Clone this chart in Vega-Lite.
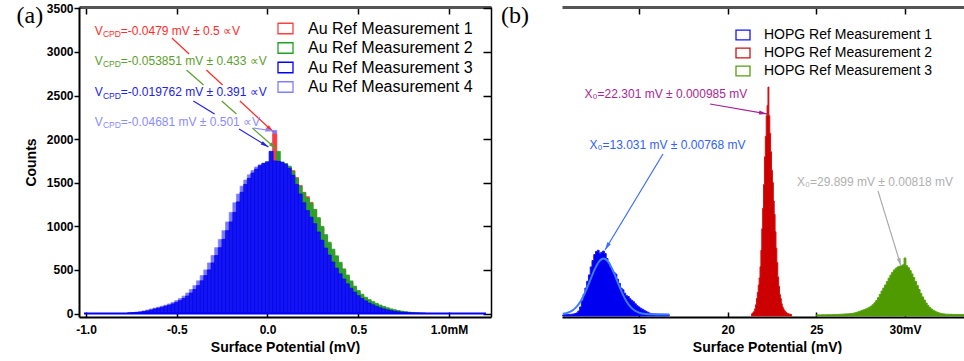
{
"$schema": "https://vega.github.io/schema/vega-lite/v6.json",
"background": "white",
"padding": {"left": 16, "top": 2, "right": 0, "bottom": 0},
"spacing": 8,
"config": {
 "view": {"stroke": null},
 "font": "Liberation Sans",
 "axis": {"labelFont": "Liberation Sans", "labelFontSize": 12, "labelFontWeight": "bold", "labelColor": "#000", "titleFont": "Liberation Sans", "titleFontSize": 14, "titleFontWeight": "bold", "titleColor": "#000", "domainColor": "#000", "tickColor": "#000", "grid": false, "labelFlush": false}
},
"resolve": {"scale": {"fill": "independent", "stroke": "independent", "color": "independent"}, "legend": {"fill": "independent", "stroke": "independent", "color": "independent"}},
"hconcat": [
{
 "width": 412, "height": 310,
 "resolve": {"axis": {"x": "independent", "y": "independent"}},
 "layer": [
  {
   "data": {"values": [
{"s":"4","x":-0.76,"c":9},{"s":"4","x":-0.74,"c":12},{"s":"4","x":-0.72,"c":16},{"s":"4","x":-0.7,"c":22},{"s":"4","x":-0.68,"c":30},{"s":"4","x":-0.66,"c":40},{"s":"4","x":-0.64,"c":52},{"s":"4","x":-0.62,"c":62},{"s":"4","x":-0.6,"c":72},{"s":"4","x":-0.58,"c":84},
{"s":"4","x":-0.56,"c":96},{"s":"4","x":-0.54,"c":110},{"s":"4","x":-0.52,"c":128},{"s":"4","x":-0.5,"c":148},{"s":"4","x":-0.48,"c":172},{"s":"4","x":-0.46,"c":200},{"s":"4","x":-0.44,"c":235},{"s":"4","x":-0.42,"c":275},{"s":"4","x":-0.4,"c":320},{"s":"4","x":-0.38,"c":375},
{"s":"4","x":-0.36,"c":435},{"s":"4","x":-0.34,"c":500},{"s":"4","x":-0.32,"c":580},{"s":"4","x":-0.3,"c":665},{"s":"4","x":-0.28,"c":755},{"s":"4","x":-0.26,"c":850},{"s":"4","x":-0.24,"c":950},{"s":"4","x":-0.22,"c":1050},{"s":"4","x":-0.2,"c":1160},{"s":"4","x":-0.18,"c":1270},
{"s":"4","x":-0.16,"c":1370},{"s":"4","x":-0.14,"c":1460},{"s":"4","x":-0.12,"c":1530},{"s":"4","x":-0.1,"c":1590},{"s":"4","x":-0.08,"c":1640},{"s":"4","x":-0.06,"c":1680},{"s":"4","x":-0.04,"c":1705},{"s":"4","x":-0.02,"c":1725},{"s":"4","x":0,"c":1735},{"s":"4","x":0.02,"c":1740},
{"s":"4","x":0.04,"c":2100},{"s":"4","x":0.06,"c":1720},{"s":"4","x":0.08,"c":1690},{"s":"4","x":0.1,"c":1650},{"s":"4","x":0.12,"c":1590},{"s":"4","x":0.14,"c":1510},{"s":"4","x":0.16,"c":1410},{"s":"4","x":0.18,"c":1300},{"s":"4","x":0.2,"c":1200},{"s":"4","x":0.22,"c":1110},
{"s":"4","x":0.24,"c":1030},{"s":"4","x":0.26,"c":950},{"s":"4","x":0.28,"c":860},{"s":"4","x":0.3,"c":770},{"s":"4","x":0.32,"c":685},{"s":"4","x":0.34,"c":605},{"s":"4","x":0.36,"c":530},{"s":"4","x":0.38,"c":465},{"s":"4","x":0.4,"c":405},{"s":"4","x":0.42,"c":350},
{"s":"4","x":0.44,"c":300},{"s":"4","x":0.46,"c":255},{"s":"4","x":0.48,"c":215},{"s":"4","x":0.5,"c":180},{"s":"4","x":0.52,"c":150},{"s":"4","x":0.54,"c":125},{"s":"4","x":0.56,"c":104},{"s":"4","x":0.58,"c":86},{"s":"4","x":0.6,"c":70},{"s":"4","x":0.62,"c":56},
{"s":"4","x":0.64,"c":45},{"s":"4","x":0.66,"c":35},{"s":"4","x":0.68,"c":27},{"s":"4","x":0.7,"c":21},{"s":"4","x":0.72,"c":16},{"s":"4","x":0.74,"c":12},{"s":"4","x":0.76,"c":9},{"s":"4","x":0.78,"c":6},{"s":"4","x":0.8,"c":4},{"s":"4","x":0.82,"c":3},
{"s":"4","x":0.84,"c":2},{"s":"4","x":0.86,"c":1},
{"s":"1","x":-0.76,"c":4},{"s":"1","x":-0.74,"c":6},{"s":"1","x":-0.72,"c":9},{"s":"1","x":-0.7,"c":12},{"s":"1","x":-0.68,"c":16},{"s":"1","x":-0.66,"c":22},{"s":"1","x":-0.64,"c":30},{"s":"1","x":-0.62,"c":40},{"s":"1","x":-0.6,"c":50},{"s":"1","x":-0.58,"c":60},
{"s":"1","x":-0.56,"c":70},{"s":"1","x":-0.54,"c":82},{"s":"1","x":-0.52,"c":95},{"s":"1","x":-0.5,"c":110},{"s":"1","x":-0.48,"c":128},{"s":"1","x":-0.46,"c":150},{"s":"1","x":-0.44,"c":175},{"s":"1","x":-0.42,"c":205},{"s":"1","x":-0.4,"c":240},{"s":"1","x":-0.38,"c":280},
{"s":"1","x":-0.36,"c":325},{"s":"1","x":-0.34,"c":380},{"s":"1","x":-0.32,"c":440},{"s":"1","x":-0.3,"c":510},{"s":"1","x":-0.28,"c":590},{"s":"1","x":-0.26,"c":680},{"s":"1","x":-0.24,"c":770},{"s":"1","x":-0.22,"c":865},{"s":"1","x":-0.2,"c":965},{"s":"1","x":-0.18,"c":1070},
{"s":"1","x":-0.16,"c":1180},{"s":"1","x":-0.14,"c":1290},{"s":"1","x":-0.12,"c":1390},{"s":"1","x":-0.1,"c":1470},{"s":"1","x":-0.08,"c":1540},{"s":"1","x":-0.06,"c":1600},{"s":"1","x":-0.04,"c":1645},{"s":"1","x":-0.02,"c":1680},{"s":"1","x":0,"c":1705},{"s":"1","x":0.02,"c":1720},
{"s":"1","x":0.04,"c":2060},{"s":"1","x":0.06,"c":1735},{"s":"1","x":0.08,"c":1730},{"s":"1","x":0.1,"c":1715},{"s":"1","x":0.12,"c":1680},{"s":"1","x":0.14,"c":1640},{"s":"1","x":0.16,"c":1560},{"s":"1","x":0.18,"c":1470},{"s":"1","x":0.2,"c":1390},{"s":"1","x":0.22,"c":1340},
{"s":"1","x":0.24,"c":1275},{"s":"1","x":0.26,"c":1190},{"s":"1","x":0.28,"c":1090},{"s":"1","x":0.3,"c":985},{"s":"1","x":0.32,"c":890},{"s":"1","x":0.34,"c":800},{"s":"1","x":0.36,"c":720},{"s":"1","x":0.38,"c":650},{"s":"1","x":0.4,"c":575},{"s":"1","x":0.42,"c":500},
{"s":"1","x":0.44,"c":430},{"s":"1","x":0.46,"c":360},{"s":"1","x":0.48,"c":300},{"s":"1","x":0.5,"c":250},{"s":"1","x":0.52,"c":205},{"s":"1","x":0.54,"c":175},{"s":"1","x":0.56,"c":150},{"s":"1","x":0.58,"c":128},{"s":"1","x":0.6,"c":108},{"s":"1","x":0.62,"c":90},
{"s":"1","x":0.64,"c":75},{"s":"1","x":0.66,"c":60},{"s":"1","x":0.68,"c":48},{"s":"1","x":0.7,"c":38},{"s":"1","x":0.72,"c":30},{"s":"1","x":0.74,"c":23},{"s":"1","x":0.76,"c":18},{"s":"1","x":0.78,"c":12},{"s":"1","x":0.8,"c":8},{"s":"1","x":0.82,"c":5},
{"s":"1","x":0.84,"c":3},{"s":"1","x":0.86,"c":2},
{"s":"2","x":-0.76,"c":3},{"s":"2","x":-0.74,"c":5},{"s":"2","x":-0.72,"c":8},{"s":"2","x":-0.7,"c":11},{"s":"2","x":-0.68,"c":15},{"s":"2","x":-0.66,"c":20},{"s":"2","x":-0.64,"c":28},{"s":"2","x":-0.62,"c":37},{"s":"2","x":-0.6,"c":46},{"s":"2","x":-0.58,"c":56},
{"s":"2","x":-0.56,"c":66},{"s":"2","x":-0.54,"c":78},{"s":"2","x":-0.52,"c":90},{"s":"2","x":-0.5,"c":105},{"s":"2","x":-0.48,"c":122},{"s":"2","x":-0.46,"c":142},{"s":"2","x":-0.44,"c":166},{"s":"2","x":-0.42,"c":195},{"s":"2","x":-0.4,"c":230},{"s":"2","x":-0.38,"c":270},
{"s":"2","x":-0.36,"c":315},{"s":"2","x":-0.34,"c":368},{"s":"2","x":-0.32,"c":428},{"s":"2","x":-0.3,"c":498},{"s":"2","x":-0.28,"c":578},{"s":"2","x":-0.26,"c":668},{"s":"2","x":-0.24,"c":758},{"s":"2","x":-0.22,"c":852},{"s":"2","x":-0.2,"c":952},{"s":"2","x":-0.18,"c":1058},
{"s":"2","x":-0.16,"c":1168},{"s":"2","x":-0.14,"c":1278},{"s":"2","x":-0.12,"c":1380},{"s":"2","x":-0.1,"c":1462},{"s":"2","x":-0.08,"c":1535},{"s":"2","x":-0.06,"c":1595},{"s":"2","x":-0.04,"c":1640},{"s":"2","x":-0.02,"c":1678},{"s":"2","x":0,"c":1702},{"s":"2","x":0.02,"c":1722},
{"s":"2","x":0.04,"c":1735},{"s":"2","x":0.06,"c":1860},{"s":"2","x":0.08,"c":1735},{"s":"2","x":0.1,"c":1720},{"s":"2","x":0.12,"c":1690},{"s":"2","x":0.14,"c":1630},{"s":"2","x":0.16,"c":1550},{"s":"2","x":0.18,"c":1460},{"s":"2","x":0.2,"c":1385},{"s":"2","x":0.22,"c":1325},
{"s":"2","x":0.24,"c":1265},{"s":"2","x":0.26,"c":1195},{"s":"2","x":0.28,"c":1100},{"s":"2","x":0.3,"c":1000},{"s":"2","x":0.32,"c":905},{"s":"2","x":0.34,"c":818},{"s":"2","x":0.36,"c":738},{"s":"2","x":0.38,"c":662},{"s":"2","x":0.4,"c":588},{"s":"2","x":0.42,"c":512},
{"s":"2","x":0.44,"c":442},{"s":"2","x":0.46,"c":374},{"s":"2","x":0.48,"c":314},{"s":"2","x":0.5,"c":264},{"s":"2","x":0.52,"c":222},{"s":"2","x":0.54,"c":187},{"s":"2","x":0.56,"c":160},{"s":"2","x":0.58,"c":137},{"s":"2","x":0.6,"c":116},{"s":"2","x":0.62,"c":97},
{"s":"2","x":0.64,"c":81},{"s":"2","x":0.66,"c":66},{"s":"2","x":0.68,"c":53},{"s":"2","x":0.7,"c":43},{"s":"2","x":0.72,"c":34},{"s":"2","x":0.74,"c":27},{"s":"2","x":0.76,"c":21},{"s":"2","x":0.78,"c":16},{"s":"2","x":0.8,"c":12},{"s":"2","x":0.82,"c":9},
{"s":"2","x":0.84,"c":6},{"s":"2","x":0.86,"c":4},
{"s":"3","x":-0.76,"c":6},{"s":"3","x":-0.74,"c":9},{"s":"3","x":-0.72,"c":12},{"s":"3","x":-0.7,"c":16},{"s":"3","x":-0.68,"c":22},{"s":"3","x":-0.66,"c":30},{"s":"3","x":-0.64,"c":40},{"s":"3","x":-0.62,"c":52},{"s":"3","x":-0.6,"c":62},{"s":"3","x":-0.58,"c":72},
{"s":"3","x":-0.56,"c":84},{"s":"3","x":-0.54,"c":96},{"s":"3","x":-0.52,"c":110},{"s":"3","x":-0.5,"c":128},{"s":"3","x":-0.48,"c":148},{"s":"3","x":-0.46,"c":172},{"s":"3","x":-0.44,"c":200},{"s":"3","x":-0.42,"c":235},{"s":"3","x":-0.4,"c":275},{"s":"3","x":-0.38,"c":320},
{"s":"3","x":-0.36,"c":375},{"s":"3","x":-0.34,"c":435},{"s":"3","x":-0.32,"c":500},{"s":"3","x":-0.3,"c":580},{"s":"3","x":-0.28,"c":665},{"s":"3","x":-0.26,"c":755},{"s":"3","x":-0.24,"c":850},{"s":"3","x":-0.22,"c":950},{"s":"3","x":-0.2,"c":1050},{"s":"3","x":-0.18,"c":1160},
{"s":"3","x":-0.16,"c":1280},{"s":"3","x":-0.14,"c":1390},{"s":"3","x":-0.12,"c":1480},{"s":"3","x":-0.1,"c":1550},{"s":"3","x":-0.08,"c":1610},{"s":"3","x":-0.06,"c":1655},{"s":"3","x":-0.04,"c":1695},{"s":"3","x":-0.02,"c":1720},{"s":"3","x":0,"c":1740},{"s":"3","x":0.02,"c":1860},
{"s":"3","x":0.04,"c":1750},{"s":"3","x":0.06,"c":1745},{"s":"3","x":0.08,"c":1735},{"s":"3","x":0.1,"c":1710},{"s":"3","x":0.12,"c":1665},{"s":"3","x":0.14,"c":1585},{"s":"3","x":0.16,"c":1480},{"s":"3","x":0.18,"c":1370},{"s":"3","x":0.2,"c":1270},{"s":"3","x":0.22,"c":1180},
{"s":"3","x":0.24,"c":1105},{"s":"3","x":0.26,"c":1030},{"s":"3","x":0.28,"c":935},{"s":"3","x":0.3,"c":840},{"s":"3","x":0.32,"c":750},{"s":"3","x":0.34,"c":670},{"s":"3","x":0.36,"c":590},{"s":"3","x":0.38,"c":520},{"s":"3","x":0.4,"c":455},{"s":"3","x":0.42,"c":395},
{"s":"3","x":0.44,"c":340},{"s":"3","x":0.46,"c":290},{"s":"3","x":0.48,"c":245},{"s":"3","x":0.5,"c":205},{"s":"3","x":0.52,"c":172},{"s":"3","x":0.54,"c":145},{"s":"3","x":0.56,"c":120},{"s":"3","x":0.58,"c":100},{"s":"3","x":0.6,"c":82},{"s":"3","x":0.62,"c":66},
{"s":"3","x":0.64,"c":53},{"s":"3","x":0.66,"c":42},{"s":"3","x":0.68,"c":33},{"s":"3","x":0.7,"c":26},{"s":"3","x":0.72,"c":20},{"s":"3","x":0.74,"c":15},{"s":"3","x":0.76,"c":11},{"s":"3","x":0.78,"c":8},{"s":"3","x":0.8,"c":6},{"s":"3","x":0.82,"c":4},
{"s":"3","x":0.84,"c":3},{"s":"3","x":0.86,"c":2}
   ]},
   "mark": {"type": "bar", "width": 4, "strokeWidth": 0.7},
   "encoding": {
    "x": {"field": "x", "type": "quantitative", "scale": {"domain": [-1.011, 1.204], "nice": false, "zero": false},
          "axis": {"orient": "bottom", "values": [-1, -0.5, 0, 0.5, 1], "labelExpr": "datum.value == 1 ? '1.0mM' : (datum.value < 0 ? '-' + format(-datum.value, '.1f') : format(datum.value, '.1f'))", "title": "Surface Potential (mV)", "tickSize": -5, "tickWidth": 1.5, "labelPadding": 12, "titlePadding": 5, "domainWidth": 2}},
    "y": {"field": "c", "type": "quantitative", "stack": null, "scale": {"domain": [-40, 3515], "nice": false, "zero": false},
          "axis": {"orient": "left", "values": [0, 500, 1000, 1500, 2000, 2500, 3000, 3500], "format": "d", "title": "Counts", "tickSize": 5, "tickWidth": 1.5, "labelPadding": 1, "titlePadding": 8, "domainWidth": 2}},
    "fill": {"field": "s", "type": "nominal", "scale": {"range": ["#ff3c3c", "#2ca02c", "#1515ee", "#7a7aff"]}, "legend": null},
    "stroke": {"field": "s", "type": "nominal", "scale": {"range": ["#ff4040", "#22a022", "#0000ff", "#8080ff"]}, "legend": null}
   }
  },
  {
   "data": {"values": [{"s": "1"}, {"s": "2"}, {"s": "3"}, {"s": "4"}]},
   "mark": {"type": "point", "filled": false, "clip": true, "shape": "M-1,-0.7H1V0.7H-1Z", "size": 225, "strokeWidth": 1.3},
   "encoding": {
    "x": {"datum": -5, "type": "quantitative", "axis": null},
    "y": {"datum": 0, "type": "quantitative", "axis": null},
    "color": {"field": "s", "type": "nominal", "scale": {"domain": ["1", "2", "3", "4"], "range": ["#ff4040", "#22a022", "#0000ff", "#8080ff"]},
       "legend": {"orient": "none", "legendX": 198, "legendY": 13, "title": null, "labelExpr": "'Au Ref Measurement ' + datum.label", "labelLimit": 0, "symbolType": "M-1,-0.7H1V0.7H-1Z", "symbolSize": 225, "symbolStrokeWidth": 1.3, "symbolOpacity": 1, "labelFont": "Liberation Sans", "labelFontSize": 16, "labelColor": "#000", "labelOffset": 14, "rowPadding": 2.5, "padding": 0}}
   }
  },
  {
   "data": {"values": [{}]},
   "mark": {"type": "rule", "color": "#0000ff", "strokeWidth": 2},
   "encoding": {"x": {"datum": -1.011, "type": "quantitative", "axis": null}, "x2": {"datum": 1.204}, "y": {"datum": 0, "type": "quantitative", "axis": null}}
  },
  {
   "data": {"values": [{}]},
   "mark": {"type": "rule", "opacity": 0},
   "encoding": {
    "x": {"datum": -1.011, "type": "quantitative", "axis": {"orient": "top", "values": [-1, -0.5, 0, 0.5, 1], "labels": false, "title": null, "tickSize": -7, "tickWidth": 1.5, "domainColor": "#555555", "domainWidth": 3}},
    "x2": {"datum": 1.204},
    "y": {"datum": 3515, "type": "quantitative", "axis": {"orient": "right", "values": [0, 500, 1000, 1500, 2000, 2500, 3000, 3500], "labels": false, "title": null, "tickSize": -8, "tickWidth": 1.5, "domainWidth": 1.5}}
   }
  },
  {
   "layer": [
    {"data": {"values": [{"x": -0.5269, "y": 3159.5, "x2": -0.4317, "y2": 2976}, {"x": -0.3366, "y": 2792.5, "x2": -0.2473, "y2": 2620.5}, {"x": -0.1522, "y": 2437, "x2": 0.0323, "y2": 2081.5}]},
     "mark": {"type": "rule", "strokeWidth": 1.2, "color": "#ff2a2a"},
     "encoding": {"x": {"field": "x", "type": "quantitative", "axis": null}, "y": {"field": "y", "type": "quantitative", "axis": null}, "x2": {"field": "x2"}, "y2": {"field": "y2"}}},
    {"data": {"values": [{"x": 0.0165, "y": 2112}]},
     "mark": {"type": "point", "shape": "M0,-1L0.5,1L-0.5,1Z", "filled": true, "opacity": 1, "size": 64, "angle": 132, "color": "#ff2a2a"},
     "encoding": {"x": {"field": "x", "type": "quantitative", "axis": null}, "y": {"field": "y", "type": "quantitative", "axis": null}}},
    {"data": {"values": [{"x": -0.9516, "y": 3194, "t": "=-0.0479 mV ± 0.5 ∝V"}]},
     "layer": [
      {"mark": {"type": "text", "align": "left", "baseline": "alphabetic", "fontSize": 12, "color": "#ff2a2a"}, "encoding": {"x": {"field": "x", "type": "quantitative", "axis": null}, "y": {"field": "y", "type": "quantitative", "axis": null}, "text": {"value": "V"}}},
      {"mark": {"type": "text", "align": "left", "baseline": "alphabetic", "fontSize": 8.5, "dx": 8.2, "dy": 2.5, "color": "#ff2a2a"}, "encoding": {"x": {"field": "x", "type": "quantitative", "axis": null}, "y": {"field": "y", "type": "quantitative", "axis": null}, "text": {"value": "CPD"}}},
      {"mark": {"type": "text", "align": "left", "baseline": "alphabetic", "fontSize": 12, "dx": 26, "color": "#ff2a2a"}, "encoding": {"x": {"field": "x", "type": "quantitative", "axis": null}, "y": {"field": "y", "type": "quantitative", "axis": null}, "text": {"field": "t"}}}
     ]}
   ]
  },
  {
   "layer": [
    {"data": {"values": [{"x": -0.4462, "y": 2792.5, "x2": -0.3522, "y2": 2620.5}, {"x": -0.2522, "y": 2437, "x2": -0.171, "y2": 2288}, {"x": -0.0833, "y": 2127.4, "x2": 0.0484, "y2": 1887}]},
     "mark": {"type": "rule", "strokeWidth": 1.2, "color": "#5c9e2c"},
     "encoding": {"x": {"field": "x", "type": "quantitative", "axis": null}, "y": {"field": "y", "type": "quantitative", "axis": null}, "x2": {"field": "x2"}, "y2": {"field": "y2"}}},
    {"data": {"values": [{"x": 0.0321, "y": 1917}]},
     "mark": {"type": "point", "shape": "M0,-1L0.5,1L-0.5,1Z", "filled": true, "opacity": 1, "size": 64, "angle": 131, "color": "#5c9e2c"},
     "encoding": {"x": {"field": "x", "type": "quantitative", "axis": null}, "y": {"field": "y", "type": "quantitative", "axis": null}}},
    {"data": {"values": [{"x": -0.9516, "y": 2851, "t": "=-0.053851 mV ± 0.433 ∝V"}]},
     "layer": [
      {"mark": {"type": "text", "align": "left", "baseline": "alphabetic", "fontSize": 12, "color": "#5c9e2c"}, "encoding": {"x": {"field": "x", "type": "quantitative", "axis": null}, "y": {"field": "y", "type": "quantitative", "axis": null}, "text": {"value": "V"}}},
      {"mark": {"type": "text", "align": "left", "baseline": "alphabetic", "fontSize": 8.5, "dx": 8.2, "dy": 2.5, "color": "#5c9e2c"}, "encoding": {"x": {"field": "x", "type": "quantitative", "axis": null}, "y": {"field": "y", "type": "quantitative", "axis": null}, "text": {"value": "CPD"}}},
      {"mark": {"type": "text", "align": "left", "baseline": "alphabetic", "fontSize": 12, "dx": 26, "color": "#5c9e2c"}, "encoding": {"x": {"field": "x", "type": "quantitative", "axis": null}, "y": {"field": "y", "type": "quantitative", "axis": null}, "text": {"field": "t"}}}
     ]}
   ]
  },
  {
   "layer": [
    {"data": {"values": [{"x": -0.4086, "y": 2437, "x2": -0.2914, "y2": 2288}, {"x": -0.1565, "y": 2116, "x2": 0.0054, "y2": 1909.5}]},
     "mark": {"type": "rule", "strokeWidth": 1.2, "color": "#2222ee"},
     "encoding": {"x": {"field": "x", "type": "quantitative", "axis": null}, "y": {"field": "y", "type": "quantitative", "axis": null}, "x2": {"field": "x2"}, "y2": {"field": "y2"}}},
    {"data": {"values": [{"x": -0.013, "y": 1933}]},
     "mark": {"type": "point", "shape": "M0,-1L0.5,1L-0.5,1Z", "filled": true, "opacity": 1, "size": 64, "angle": 121, "color": "#2222ee"},
     "encoding": {"x": {"field": "x", "type": "quantitative", "axis": null}, "y": {"field": "y", "type": "quantitative", "axis": null}}},
    {"data": {"values": [{"x": -0.9516, "y": 2494, "t": "=-0.019762 mV ± 0.391 ∝V"}]},
     "layer": [
      {"mark": {"type": "text", "align": "left", "baseline": "alphabetic", "fontSize": 12, "color": "#2222ee"}, "encoding": {"x": {"field": "x", "type": "quantitative", "axis": null}, "y": {"field": "y", "type": "quantitative", "axis": null}, "text": {"value": "V"}}},
      {"mark": {"type": "text", "align": "left", "baseline": "alphabetic", "fontSize": 8.5, "dx": 8.2, "dy": 2.5, "color": "#2222ee"}, "encoding": {"x": {"field": "x", "type": "quantitative", "axis": null}, "y": {"field": "y", "type": "quantitative", "axis": null}, "text": {"value": "CPD"}}},
      {"mark": {"type": "text", "align": "left", "baseline": "alphabetic", "fontSize": 12, "dx": 26, "color": "#2222ee"}, "encoding": {"x": {"field": "x", "type": "quantitative", "axis": null}, "y": {"field": "y", "type": "quantitative", "axis": null}, "text": {"field": "t"}}}
     ]}
   ]
  },
  {
   "layer": [
    {"data": {"values": [{"x": -0.0753, "y": 2127.4, "x2": 0.0323, "y2": 2093}]},
     "mark": {"type": "rule", "strokeWidth": 1.2, "color": "#8c8cff"},
     "encoding": {"x": {"field": "x", "type": "quantitative", "axis": null}, "y": {"field": "y", "type": "quantitative", "axis": null}, "x2": {"field": "x2"}, "y2": {"field": "y2"}}},
    {"data": {"values": [{"x": 0.011, "y": 2100}]},
     "mark": {"type": "point", "shape": "M0,-1L0.5,1L-0.5,1Z", "filled": true, "opacity": 1, "size": 64, "angle": 98, "color": "#8c8cff"},
     "encoding": {"x": {"field": "x", "type": "quantitative", "axis": null}, "y": {"field": "y", "type": "quantitative", "axis": null}}},
    {"data": {"values": [{"x": -0.9516, "y": 2155, "t": "=-0.04681 mV ± 0.501 ∝V"}]},
     "layer": [
      {"mark": {"type": "text", "align": "left", "baseline": "alphabetic", "fontSize": 12, "color": "#8c8cff"}, "encoding": {"x": {"field": "x", "type": "quantitative", "axis": null}, "y": {"field": "y", "type": "quantitative", "axis": null}, "text": {"value": "V"}}},
      {"mark": {"type": "text", "align": "left", "baseline": "alphabetic", "fontSize": 8.5, "dx": 8.2, "dy": 2.5, "color": "#8c8cff"}, "encoding": {"x": {"field": "x", "type": "quantitative", "axis": null}, "y": {"field": "y", "type": "quantitative", "axis": null}, "text": {"value": "CPD"}}},
      {"mark": {"type": "text", "align": "left", "baseline": "alphabetic", "fontSize": 12, "dx": 26, "color": "#8c8cff"}, "encoding": {"x": {"field": "x", "type": "quantitative", "axis": null}, "y": {"field": "y", "type": "quantitative", "axis": null}, "text": {"field": "t"}}}
     ]}
   ]
  },
  {
   "data": {"values": [{}]},
   "mark": {"type": "text", "font": "Liberation Serif", "fontSize": 24, "align": "center", "baseline": "middle", "color": "#000"},
   "encoding": {"x": {"datum": -1.309, "type": "quantitative", "axis": null}, "y": {"datum": 3412, "type": "quantitative", "axis": null}, "text": {"value": "(a)"}}
  }
 ]
},
{
 "width": 410, "height": 310,
 "resolve": {"axis": {"x": "independent"}},
 "layer": [
  {
   "data": {"values": [
{"h":"1","x":10.7,"c":10},{"h":"1","x":10.8,"c":12},{"h":"1","x":10.9,"c":13},{"h":"1","x":11,"c":14},{"h":"1","x":11.1,"c":15},{"h":"1","x":11.2,"c":17},{"h":"1","x":11.3,"c":19},{"h":"1","x":11.4,"c":23},{"h":"1","x":11.5,"c":30},{"h":"1","x":11.6,"c":48},
{"h":"1","x":11.7,"c":88},{"h":"1","x":11.8,"c":148},{"h":"1","x":11.9,"c":210},{"h":"1","x":12,"c":272},{"h":"1","x":12.1,"c":338},{"h":"1","x":12.2,"c":400},{"h":"1","x":12.3,"c":478},{"h":"1","x":12.4,"c":540},{"h":"1","x":12.5,"c":598},{"h":"1","x":12.6,"c":628},
{"h":"1","x":12.7,"c":640},{"h":"1","x":12.8,"c":612},{"h":"1","x":12.9,"c":620},{"h":"1","x":13,"c":632},{"h":"1","x":13.1,"c":608},{"h":"1","x":13.2,"c":560},{"h":"1","x":13.3,"c":518},{"h":"1","x":13.4,"c":478},{"h":"1","x":13.5,"c":440},{"h":"1","x":13.6,"c":425},
{"h":"1","x":13.7,"c":408},{"h":"1","x":13.8,"c":358},{"h":"1","x":13.9,"c":318},{"h":"1","x":14,"c":272},{"h":"1","x":14.1,"c":255},{"h":"1","x":14.2,"c":222},{"h":"1","x":14.3,"c":198},{"h":"1","x":14.4,"c":190},{"h":"1","x":14.5,"c":168},{"h":"1","x":14.6,"c":152},
{"h":"1","x":14.7,"c":138},{"h":"1","x":14.8,"c":118},{"h":"1","x":14.9,"c":100},{"h":"1","x":15,"c":88},{"h":"1","x":15.1,"c":75},{"h":"1","x":15.2,"c":66},{"h":"1","x":15.3,"c":55},{"h":"1","x":15.4,"c":45},{"h":"1","x":15.5,"c":37},{"h":"1","x":15.6,"c":28},
{"h":"1","x":15.7,"c":22},{"h":"1","x":15.8,"c":20},{"h":"1","x":15.9,"c":20},{"h":"1","x":16,"c":19},{"h":"1","x":16.1,"c":18},{"h":"1","x":16.2,"c":18},{"h":"1","x":16.3,"c":17},{"h":"1","x":16.4,"c":17},{"h":"1","x":16.5,"c":16},{"h":"1","x":16.6,"c":16},{"h":"1","x":16.7,"c":15},
{"h":"2","x":21.35,"c":20},{"h":"2","x":21.4,"c":25},{"h":"2","x":21.45,"c":35},{"h":"2","x":21.5,"c":45},{"h":"2","x":21.55,"c":70},{"h":"2","x":21.6,"c":110},{"h":"2","x":21.65,"c":170},{"h":"2","x":21.7,"c":230},{"h":"2","x":21.75,"c":300},{"h":"2","x":21.8,"c":370},
{"h":"2","x":21.85,"c":480},{"h":"2","x":21.9,"c":640},{"h":"2","x":21.95,"c":850},{"h":"2","x":22,"c":1050},{"h":"2","x":22.05,"c":1280},{"h":"2","x":22.1,"c":1550},{"h":"2","x":22.15,"c":1750},{"h":"2","x":22.2,"c":1950},{"h":"2","x":22.25,"c":2050},{"h":"2","x":22.3,"c":2230},
{"h":"2","x":22.35,"c":1950},{"h":"2","x":22.4,"c":1780},{"h":"2","x":22.45,"c":1600},{"h":"2","x":22.5,"c":1420},{"h":"2","x":22.55,"c":1300},{"h":"2","x":22.6,"c":1120},{"h":"2","x":22.65,"c":990},{"h":"2","x":22.7,"c":820},{"h":"2","x":22.75,"c":660},{"h":"2","x":22.8,"c":520},
{"h":"2","x":22.85,"c":380},{"h":"2","x":22.9,"c":290},{"h":"2","x":22.95,"c":210},{"h":"2","x":23,"c":170},{"h":"2","x":23.05,"c":120},{"h":"2","x":23.1,"c":90},{"h":"2","x":23.15,"c":70},{"h":"2","x":23.2,"c":55},{"h":"2","x":23.25,"c":45},{"h":"2","x":23.3,"c":35},
{"h":"2","x":23.35,"c":28},{"h":"2","x":23.4,"c":24},{"h":"2","x":23.45,"c":20},{"h":"2","x":23.5,"c":18},{"h":"2","x":23.55,"c":16},{"h":"2","x":23.6,"c":15},
{"h":"3","x":25,"c":10},{"h":"3","x":25.1,"c":11},{"h":"3","x":25.2,"c":10},{"h":"3","x":25.3,"c":11},{"h":"3","x":25.4,"c":12},{"h":"3","x":25.5,"c":11},{"h":"3","x":25.6,"c":12},{"h":"3","x":25.7,"c":13},{"h":"3","x":25.8,"c":12},{"h":"3","x":25.9,"c":13},
{"h":"3","x":26,"c":14},{"h":"3","x":26.1,"c":14},{"h":"3","x":26.2,"c":15},{"h":"3","x":26.3,"c":16},{"h":"3","x":26.4,"c":17},{"h":"3","x":26.5,"c":18},{"h":"3","x":26.6,"c":19},{"h":"3","x":26.7,"c":20},{"h":"3","x":26.8,"c":21},{"h":"3","x":26.9,"c":22},
{"h":"3","x":27,"c":24},{"h":"3","x":27.1,"c":27},{"h":"3","x":27.2,"c":31},{"h":"3","x":27.3,"c":36},{"h":"3","x":27.4,"c":42},{"h":"3","x":27.5,"c":48},{"h":"3","x":27.6,"c":55},{"h":"3","x":27.7,"c":61},{"h":"3","x":27.8,"c":68},{"h":"3","x":27.9,"c":76},
{"h":"3","x":28,"c":85},{"h":"3","x":28.1,"c":96},{"h":"3","x":28.2,"c":110},{"h":"3","x":28.3,"c":128},{"h":"3","x":28.4,"c":150},{"h":"3","x":28.5,"c":178},{"h":"3","x":28.6,"c":210},{"h":"3","x":28.7,"c":243},{"h":"3","x":28.8,"c":272},{"h":"3","x":28.9,"c":302},
{"h":"3","x":29,"c":335},{"h":"3","x":29.1,"c":368},{"h":"3","x":29.2,"c":398},{"h":"3","x":29.3,"c":425},{"h":"3","x":29.4,"c":448},{"h":"3","x":29.5,"c":465},{"h":"3","x":29.6,"c":477},{"h":"3","x":29.7,"c":485},{"h":"3","x":29.8,"c":490},{"h":"3","x":29.9,"c":498},
{"h":"3","x":30,"c":565},{"h":"3","x":30.1,"c":490},{"h":"3","x":30.2,"c":470},{"h":"3","x":30.3,"c":442},{"h":"3","x":30.4,"c":410},{"h":"3","x":30.5,"c":375},{"h":"3","x":30.6,"c":336},{"h":"3","x":30.7,"c":298},{"h":"3","x":30.8,"c":258},{"h":"3","x":30.9,"c":220},
{"h":"3","x":31,"c":186},{"h":"3","x":31.1,"c":155},{"h":"3","x":31.2,"c":126},{"h":"3","x":31.3,"c":102},{"h":"3","x":31.4,"c":83},{"h":"3","x":31.5,"c":68},{"h":"3","x":31.6,"c":56},{"h":"3","x":31.7,"c":46},{"h":"3","x":31.8,"c":38},{"h":"3","x":31.9,"c":31},
{"h":"3","x":32,"c":26},{"h":"3","x":32.1,"c":22},{"h":"3","x":32.2,"c":20},{"h":"3","x":32.3,"c":18},{"h":"3","x":32.4,"c":17},{"h":"3","x":32.5,"c":16},{"h":"3","x":32.6,"c":16},{"h":"3","x":32.7,"c":15},{"h":"3","x":32.8,"c":15},{"h":"3","x":32.9,"c":15},
{"h":"3","x":33,"c":14},{"h":"3","x":33.1,"c":14},{"h":"3","x":33.2,"c":14},{"h":"3","x":33.3,"c":13},{"h":"3","x":33.4,"c":13},{"h":"3","x":33.5,"c":13},{"h":"3","x":33.6,"c":12},{"h":"3","x":33.7,"c":12}
   ]},
   "mark": {"type": "area", "interpolate": "step", "strokeWidth": 1},
   "encoding": {
    "x": {"field": "x", "type": "quantitative", "scale": {"domain": [10.658, 33.78], "nice": false, "zero": false},
          "axis": {"orient": "bottom", "values": [15, 20, 25, 30], "labelExpr": "datum.value == 30 ? '30mV' : datum.label", "title": "Surface Potential (mV)", "tickSize": -5, "tickWidth": 1.5, "labelPadding": 12, "titlePadding": 5, "domainWidth": 2}},
    "y": {"field": "c", "type": "quantitative", "stack": null, "scale": {"domain": [-10, 3010], "nice": false, "zero": false},
          "axis": {"orient": "left", "values": [0, 500, 1000, 1500, 2000, 2500, 3000], "format": "d", "title": "Counts", "tickSize": 5, "tickWidth": 1.5, "labelPadding": 2, "titlePadding": 3, "domainWidth": 2}},
    "fill": {"field": "h", "type": "nominal", "scale": {"range": ["#0000f0", "#cc0000", "#4f9a00"]}, "legend": null},
    "stroke": {"field": "h", "type": "nominal", "scale": {"range": ["#1414ff", "#d01010", "#55a010"]}, "legend": null}
   }
  },
  {
   "data": {"values": [{"h": "1"}, {"h": "2"}, {"h": "3"}]},
   "mark": {"type": "point", "filled": false, "clip": true, "shape": "M-1,-0.7H1V0.7H-1Z", "size": 196, "strokeWidth": 1.3},
   "encoding": {
    "x": {"datum": 0, "type": "quantitative", "axis": null},
    "y": {"datum": 0, "type": "quantitative", "axis": null},
    "color": {"field": "h", "type": "nominal", "scale": {"domain": ["1", "2", "3"], "range": ["#1414ff", "#d01010", "#55a010"]},
       "legend": {"orient": "none", "legendX": 173, "legendY": 20, "title": null, "labelExpr": "'HOPG Ref Measurement ' + datum.label", "labelLimit": 0, "symbolType": "M-1,-0.7H1V0.7H-1Z", "symbolSize": 196, "symbolStrokeWidth": 1.3, "symbolOpacity": 1, "labelFont": "Liberation Sans", "labelFontSize": 14, "labelColor": "#000", "labelOffset": 13, "rowPadding": 2, "padding": 0}}
   }
  },
  {
   "data": {"values": [
    {"x": 10.7, "c": 21}, {"x": 10.9, "c": 27}, {"x": 11.1, "c": 39}, {"x": 11.3, "c": 60}, {"x": 11.5, "c": 93}, {"x": 11.7, "c": 141}, {"x": 11.9, "c": 206}, {"x": 12.1, "c": 285}, {"x": 12.3, "c": 372}, {"x": 12.5, "c": 454}, {"x": 12.7, "c": 519}, {"x": 12.9, "c": 555}, {"x": 13.0, "c": 560}, {"x": 13.1, "c": 555}, {"x": 13.3, "c": 519}, {"x": 13.5, "c": 454}, {"x": 13.7, "c": 372}, {"x": 13.9, "c": 285}, {"x": 14.1, "c": 206}, {"x": 14.3, "c": 141}, {"x": 14.5, "c": 93}, {"x": 14.7, "c": 60}, {"x": 14.9, "c": 39}, {"x": 15.1, "c": 27}, {"x": 15.3, "c": 21}, {"x": 15.5, "c": 17}, {"x": 15.7, "c": 16}, {"x": 16.0, "c": 15}, {"x": 16.7, "c": 15}
   ]},
   "mark": {"type": "line", "color": "#3d7dff", "strokeWidth": 2, "interpolate": "monotone"},
   "encoding": {"x": {"field": "x", "type": "quantitative", "axis": null}, "y": {"field": "c", "type": "quantitative", "axis": null}}
  },
  {
   "data": {"values": [{}]},
   "mark": {"type": "rule", "opacity": 0},
   "encoding": {
    "x": {"datum": 10.658, "type": "quantitative", "axis": {"orient": "top", "values": [15, 20, 25, 30], "labels": false, "title": null, "tickSize": -7, "tickWidth": 1.5, "domainColor": "#555555", "domainWidth": 3}},
    "x2": {"datum": 33.78},
    "y": {"datum": 3010, "type": "quantitative", "axis": null}
   }
  },
  {
   "layer": [
    {"data": {"values": [{"x": 16.353, "y": 1578, "x2": 13.083, "y2": 643}]},
     "mark": {"type": "rule", "strokeWidth": 1.2, "color": "#3a6cff"},
     "encoding": {"x": {"field": "x", "type": "quantitative", "axis": null}, "y": {"field": "y", "type": "quantitative", "axis": null}, "x2": {"field": "x2"}, "y2": {"field": "y2"}}},
    {"data": {"values": [{"x": 13.2, "y": 676}]},
     "mark": {"type": "point", "shape": "M0,-1L0.5,1L-0.5,1Z", "filled": true, "opacity": 1, "size": 64, "angle": 211, "color": "#3a6cff"},
     "encoding": {"x": {"field": "x", "type": "quantitative", "axis": null}, "y": {"field": "y", "type": "quantitative", "axis": null}}},
    {"data": {"values": [{"x": 16.607, "y": 1627, "t": "X₀=13.031 mV ± 0.00768 mV"}]},
     "mark": {"type": "text", "align": "center", "baseline": "alphabetic", "fontSize": 12, "color": "#3060ff"},
     "encoding": {"x": {"field": "x", "type": "quantitative", "axis": null}, "y": {"field": "y", "type": "quantitative", "axis": null}, "text": {"field": "t"}}}
   ]
  },
  {
   "layer": [
    {"data": {"values": [{"x": 19.004, "y": 2065, "x2": 22.218, "y2": 1968}]},
     "mark": {"type": "rule", "strokeWidth": 1.2, "color": "#a0208f"},
     "encoding": {"x": {"field": "x", "type": "quantitative", "axis": null}, "y": {"field": "y", "type": "quantitative", "axis": null}, "x2": {"field": "x2"}, "y2": {"field": "y2"}}},
    {"data": {"values": [{"x": 21.996, "y": 1975}]},
     "mark": {"type": "point", "shape": "M0,-1L0.5,1L-0.5,1Z", "filled": true, "opacity": 1, "size": 64, "angle": 100, "color": "#a0208f"},
     "encoding": {"x": {"field": "x", "type": "quantitative", "axis": null}, "y": {"field": "y", "type": "quantitative", "axis": null}}},
    {"data": {"values": [{"x": 16.52, "y": 2124, "t": "X₀=22.301 mV ± 0.000985 mV"}]},
     "mark": {"type": "text", "align": "center", "baseline": "alphabetic", "fontSize": 12, "color": "#a82896"},
     "encoding": {"x": {"field": "x", "type": "quantitative", "axis": null}, "y": {"field": "y", "type": "quantitative", "axis": null}, "text": {"field": "t"}}}
   ]
  },
  {
   "layer": [
    {"data": {"values": [{"x": 28.478, "y": 1218, "x2": 29.775, "y2": 487}]},
     "mark": {"type": "rule", "strokeWidth": 1.2, "color": "#aaaaaa"},
     "encoding": {"x": {"field": "x", "type": "quantitative", "axis": null}, "y": {"field": "y", "type": "quantitative", "axis": null}, "x2": {"field": "x2"}, "y2": {"field": "y2"}}},
    {"data": {"values": [{"x": 29.709, "y": 524}]},
     "mark": {"type": "point", "shape": "M0,-1L0.5,1L-0.5,1Z", "filled": true, "opacity": 1, "size": 64, "angle": 163, "color": "#aaaaaa"},
     "encoding": {"x": {"field": "x", "type": "quantitative", "axis": null}, "y": {"field": "y", "type": "quantitative", "axis": null}}},
    {"data": {"values": [{"x": 28.308, "y": 1266, "t": "X₀=29.899 mV ± 0.00818 mV"}]},
     "mark": {"type": "text", "align": "center", "baseline": "alphabetic", "fontSize": 12, "color": "#b0b0b0"},
     "encoding": {"x": {"field": "x", "type": "quantitative", "axis": null}, "y": {"field": "y", "type": "quantitative", "axis": null}, "text": {"field": "t"}}}
   ]
  },
  {
   "data": {"values": [{}]},
   "mark": {"type": "text", "font": "Liberation Serif", "fontSize": 24, "align": "center", "baseline": "middle", "color": "#000"},
   "encoding": {"x": {"datum": 8.0, "type": "quantitative", "axis": null}, "y": {"datum": 2922, "type": "quantitative", "axis": null}, "text": {"value": "(b)"}}
  }
 ]
}
]
}
